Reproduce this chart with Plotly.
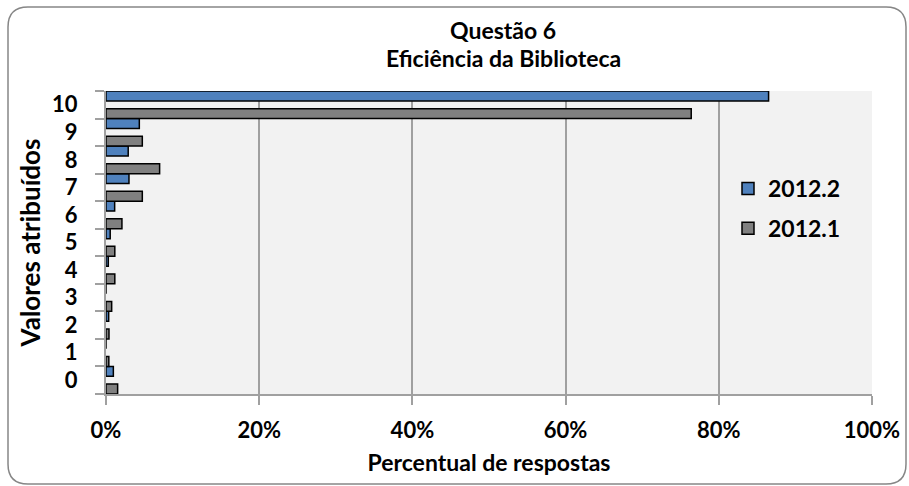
import plotly.graph_objects as go

# Survey data: share of answers (%) for each score 0..10
scores = ["0", "1", "2", "3", "4", "5", "6", "7", "8", "9", "10"]
pct_2012_2 = [0.96, 0.0, 0.35, 0.0, 0.30, 0.55, 1.13, 3.0, 2.9, 4.35, 86.5]
pct_2012_1 = [1.52, 0.37, 0.39, 0.74, 1.15, 1.15, 2.08, 4.74, 7.0, 4.74, 76.4]

W, H = 909, 486
L, R, T, B = 106, 872, 91, 394          # plot area in pixels
FONT = "Lato, 'Open Sans', Arial, sans-serif"
BLUE = "#4F81BD"
GRAY = "#808080"
GRID = "#A0A0A0"


def px(x):
    return (x - L) / (R - L)


def py(y):
    return (B - y) / (B - T)


fig = go.Figure()
bar_w = 0.36
fig.add_trace(go.Bar(
    y=scores, x=pct_2012_2, orientation="h", name="2012.2",
    width=bar_w, offset=0.5 - bar_w,
    marker=dict(color=BLUE, line=dict(color="black", width=1.5)),
    legendgroup="a", legendrank=1,
))
fig.add_trace(go.Bar(
    y=scores, x=pct_2012_1, orientation="h", name="2012.1",
    width=bar_w, offset=-0.5,
    marker=dict(color=GRAY, line=dict(color="black", width=1.5)),
    legendgroup="b", legendrank=2,
))

# rounded frame around the whole chart
x0, x1, y0, y1, r = 8, 906, 7, 484, 20
path = (
    f"M {px(x0 + r)},{py(y0)} L {px(x1 - r)},{py(y0)} "
    f"Q {px(x1)},{py(y0)} {px(x1)},{py(y0 + r)} "
    f"L {px(x1)},{py(y1 - r)} Q {px(x1)},{py(y1)} {px(x1 - r)},{py(y1)} "
    f"L {px(x0 + r)},{py(y1)} Q {px(x0)},{py(y1)} {px(x0)},{py(y1 - r)} "
    f"L {px(x0)},{py(y0 + r)} Q {px(x0)},{py(y0)} {px(x0 + r)},{py(y0)} Z"
)
fig.add_shape(type="path", path=path, xref="paper", yref="paper",
              line=dict(color="#868686", width=1.5), layer="below")

# two-line chart title
fig.add_annotation(text="Questão 6", x=px(503), y=py(30), xref="paper", yref="paper",
                   showarrow=False, xanchor="center", yanchor="middle",
                   font=dict(size=23, family=FONT, color="black", weight="bold"))
fig.add_annotation(text="Eficiência da Biblioteca", x=px(503), y=py(58), xref="paper",
                   yref="paper", showarrow=False, xanchor="center", yanchor="middle",
                   font=dict(size=23, family=FONT, color="black", weight="bold"))

fig.update_layout(
    width=W, height=H,
    margin=dict(l=L, r=W - R, t=T, b=H - B, autoexpand=False),
    paper_bgcolor="white", plot_bgcolor="#F2F2F2",
    barmode="overlay",
    font=dict(family=FONT, color="black", weight="bold"),
    legend=dict(x=px(728), y=py(167), xanchor="left", yanchor="top",
                bgcolor="rgba(0,0,0,0)", font=dict(size=23, weight="bold"),
                tracegroupgap=7),
)
fig.update_xaxes(
    range=[0, 100], dtick=20, ticksuffix="%",
    showgrid=True, gridcolor=GRID, gridwidth=2,
    showline=True, linecolor=GRID, linewidth=2,
    ticks="outside", ticklen=9, tickcolor=GRID, tickwidth=2,
    tickfont=dict(size=22, weight="bold"), ticklabelstandoff=7,
    zeroline=False,
    title=dict(text="Percentual de respostas", font=dict(size=23, weight="bold"), standoff=12),
)
fig.update_yaxes(
    type="category", categoryorder="array", categoryarray=scores,
    range=[-0.5, 10.5], tickson="boundaries",
    showgrid=False, showline=True, linecolor=GRID, linewidth=2,
    ticks="outside", ticklen=9, tickcolor=GRID, tickwidth=2,
    tickfont=dict(size=22, weight="bold"), ticklabelstandoff=22,
    title=dict(text="Valores atribuídos", font=dict(size=26, weight="bold"), standoff=4),
)

fig.write_html("out.html")
